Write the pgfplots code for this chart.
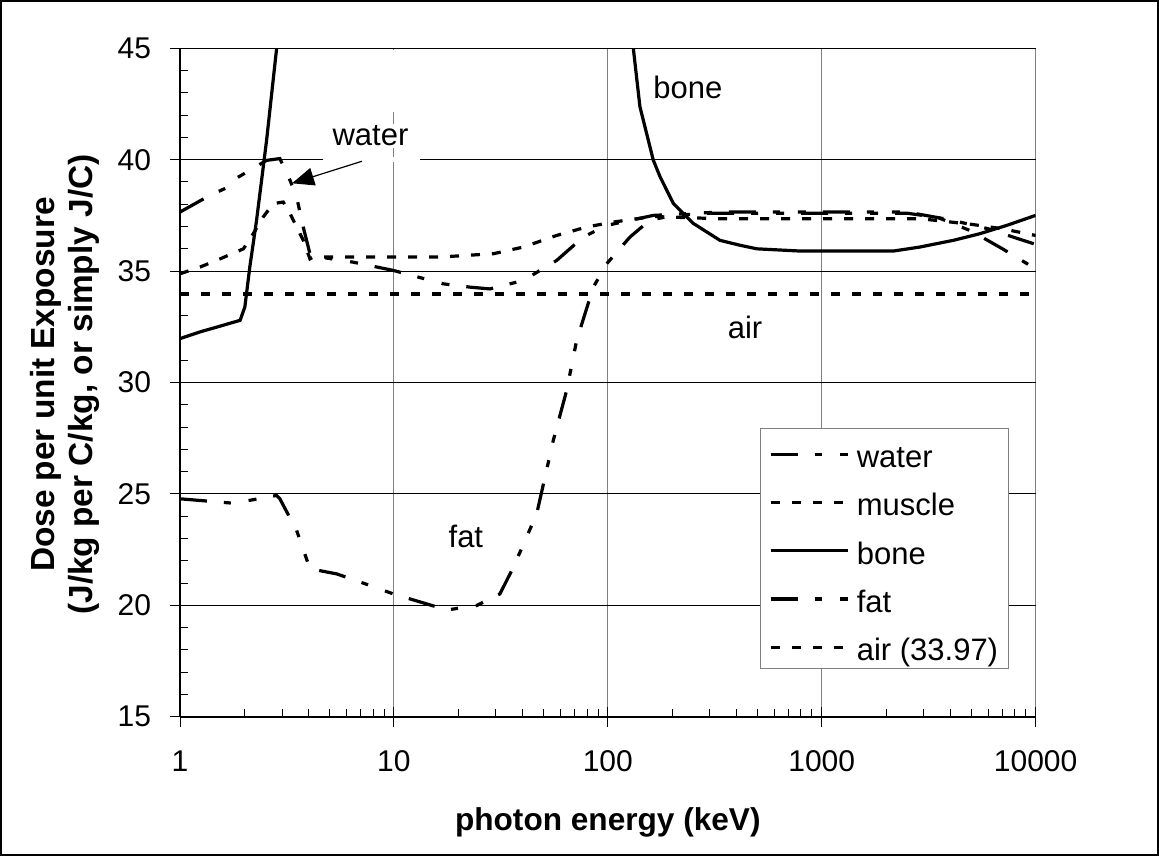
\documentclass[border=0pt]{standalone}
\usepackage{fontspec}
\setmainfont{Liberation Sans}
\usepackage{pgfplots}
\pgfplotsset{compat=1.18}
\usetikzlibrary{arrows.meta}

\pgfplotstableread{
x y
1 37.65
1.38 38.4
1.68 38.77
1.71 39.0
2.12 39.52
2.54 39.97
2.93 40.05
3.27 39.07
3.51 38.32
3.77 36.98
4.05 35.78
4.51 35.63
6.46 35.4
9.94 35.03
17.0 34.43
22.7 34.28
28.1 34.2
40.3 34.58
57.7 35.48
76.8 36.53
98.8 37.05
163 37.5
334 37.65
2500 37.65
4000 37.3
6000 36.9
8000 36.5
10000 36.2
}\water

\pgfplotstableread{
x y
1 34.88
1.24 35.18
1.54 35.55
1.98 36.0
2.2 36.68
2.45 37.43
2.73 38.03
3.04 38.1
3.27 37.58
3.51 36.98
3.77 36.38
4.05 35.55
4.2 35.63
16.4 35.63
29.2 35.78
40.3 36.08
57.7 36.6
79.7 36.98
106 37.2
163 37.45
334 37.35
2900 37.35
5000 37.1
7000 36.9
10000 36.6
}\muscle

\pgfplotstableread{
x y
1 31.97
1.24 32.27
1.54 32.53
1.91 32.79
2.01 33.39
2.12 35.18
2.28 37.28
2.54 40.87
2.83 45
3.0 48
3.3 60
110 60
122 47.7
131.6 45
141.3 42.38
163.2 39.98
175.4 39.24
202.4 38.04
251 37.14
334.6 36.38
415 36.16
497 36.0
792 35.9
2162 35.9
2879 36.08
4121 36.38
5495 36.68
7324 37.05
10000 37.5
}\bone

\pgfplotstableread{
x y
1 24.78
1.78 24.58
2.83 24.93
2.93 24.78
3.51 23.36
4.05 21.64
5.40 21.41
7.73 20.89
9.94 20.51
17.7 19.79
24.4 19.99
31.3 20.51
36.2 21.71
46.5 24.1
55.6 27.4
64.2 29.64
71.5 31.89
85.6 34.28
98.8 35.33
127 36.53
157 37.28
202 37.5
300 37.6
2500 37.6
3500 37.4
5000 36.8
7000 36.0
10000 35.1
}\fat

\pgfplotstableread{
x y
1 33.97
10000 33.97
}\air

\begin{document}
\begin{tikzpicture}
\useasboundingbox (-90pt,-69.65pt) rectangle (489.5pt,358.35pt);
\draw[line width=1.2pt] (-89.4pt,-69.05pt) rectangle (488.9pt,357.75pt);
\begin{axis}[
  at={(0,0)}, anchor=south west,
  width=427.8pt, height=334.2pt, scale only axis,
  xmode=log, xmin=1, xmax=10000, ymin=15, ymax=45,
  axis lines=left, axis line style={-, line width=0.8pt},
  xtick={1,10,100,1000,10000},
  xticklabels={1,10,100,1000,10000},
  minor xtick={2,3,4,5,6,7,8,9,20,30,40,50,60,70,80,90,200,300,400,500,600,700,800,900,2000,3000,4000,5000,6000,7000,8000,9000},
  ytick={15,20,25,30,35,40,45},
  minor y tick num=4,
  /pgf/number format/assume math mode=true,
  grid=major,
  x grid style={gray, line width=0.5pt},
  y grid style={black, line width=0.5pt},
  tick align=center,
  major tick length=10pt,
  minor tick length=4pt,
  tick style={black, line width=0.5pt},
  minor x tick style={yshift=2pt},
  minor y tick style={xshift=2pt},
  xtick pos=bottom, ytick pos=left,
  ticklabel style={font=\fontsize{15}{17}\selectfont},
  xticklabel style={yshift=-8.5pt},
  yticklabel style={xshift=-6pt},
  xlabel={photon energy (keV)},
  xlabel style={at={(axis description cs:0.5,0)}, anchor=base, yshift=-57pt, font=\fontsize{15.8}{18.5}\selectfont\bfseries},
  ylabel={Dose per unit Exposure\\(J/kg per C/kg, or simply J/C)},
  ylabel style={at={(axis description cs:-0.1344,0.497)}, anchor=center, align=center, font=\fontsize{16.7}{19}\selectfont\bfseries},
  legend style={at={(rel axis cs:0.6779,0.4319)}, anchor=north west, draw=gray, line width=0.6pt, fill=white,
    font=\fontsize{15.5}{18}\selectfont, inner xsep=4.5pt, inner ysep=3.5pt, row sep=7.65pt,
    nodes={inner sep=0.5pt, text height=15.5pt, text depth=0pt},
    /tikz/every odd column/.append style={column sep=3pt}},
  legend cell align=left,
  legend image code/.code={\draw[#1] (0pt,-1pt) -- (38.5pt,-1pt);},
]
\addplot[black, line width=1.6pt, dash pattern=on 13.5pt off 8.5pt on 3.5pt off 9pt on 4pt off 8.5pt] table[x=x,y=y] {\water};
\addlegendentry{water}
\addplot[black, line width=1.6pt, dash pattern=on 4.5pt off 6pt] table[x=x,y=y] {\muscle};
\addlegendentry{muscle}
\addplot[black, line width=1.6pt] table[x=x,y=y] {\bone};
\addlegendentry{bone}
\addplot[black, line width=1.6pt, dash pattern=on 13.5pt off 8.5pt on 3.5pt off 9pt on 4pt off 8.5pt] table[x=x,y=y] {\fat};
\addlegendentry{fat}
\addplot[black, line width=1.6pt, dash pattern=on 4.5pt off 6pt] table[x=x,y=y] {\air};
\addlegendentry{air (33.97)}

\fill[white] (axis cs:4.66,39.88) rectangle (axis cs:13.25,40.12);
\fill[white] (axis cs:9.69,42.14) rectangle (axis cs:10.34,44.92);
\node[fill=white, inner sep=1pt, font=\fontsize{15.5}{18}\selectfont] at (axis cs:7.77,41.06) {water};
\draw[-{Triangle[length=11pt,width=9pt]}, line width=0.6pt] (axis cs:7.09,39.93) -- (axis cs:3.34,38.94);
\node[font=\fontsize{15.5}{18}\selectfont] at (axis cs:237,43.26) {bone};
\node[font=\fontsize{15.5}{18}\selectfont] at (axis cs:438,32.45) {air};
\node[font=\fontsize{15.5}{18}\selectfont] at (axis cs:21.7,23.07) {fat};
\end{axis}
\end{tikzpicture}
\end{document}
